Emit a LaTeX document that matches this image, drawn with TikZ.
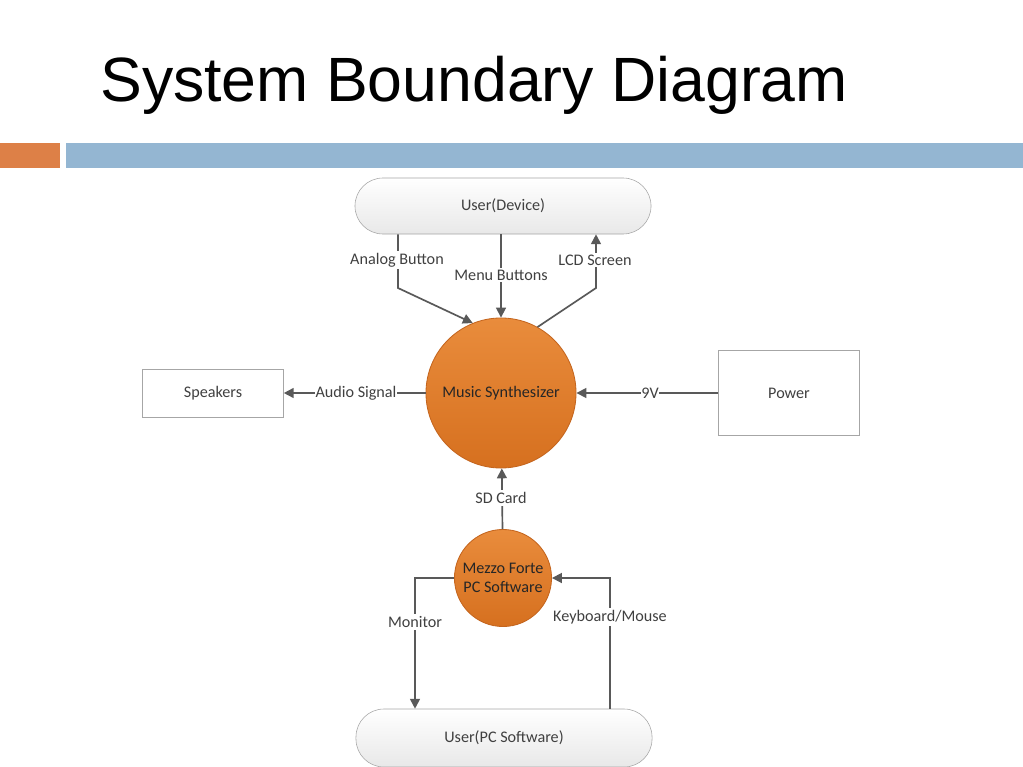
\documentclass[tikz,border=0pt]{standalone}
\usepackage{fontspec}
\setmainfont{Carlito}
\newfontfamily\titlefont{Liberation Sans}
\usetikzlibrary{arrows.meta, calc}
\definecolor{barorange}{HTML}{DD8047}
\definecolor{barblue}{HTML}{94B6D2}
\definecolor{procTop}{HTML}{E98C3C}
\definecolor{procBottom}{HTML}{D6701F}
\definecolor{procEdge}{HTML}{C4651E}

\begin{document}
\begin{tikzpicture}[x=0.025cm, y=-0.025cm, font=\fontsize{11.5}{13}\selectfont,
            user-block/.style={rectangle, draw=black!35, top color=white, bottom color=black!9, minimum width=7.4cm, minimum height=1.4cm, rounded corners=0.7cm, text=black!75},
            ext-block/.style={rectangle, draw=black!35, fill=white, minimum width=3.525cm, text=black!75},
            process/.style={circle, draw=procEdge, line width=0.6pt, top color=procTop, bottom color=procBottom, inner sep=0pt, align=center, text=black!85},
            arrow/.style={line width=1.2pt, draw=black!65, -{Triangle[length=7pt,width=7pt]}},
            flow/.style={fill=white, inner sep=1.5pt, text=black!75}
        ]

        \useasboundingbox (0,0) rectangle (1023,767);

        % Title and header bar
        \node[anchor=base west, inner sep=0pt, font=\titlefont\fontsize{44.5}{50}\selectfont] (title) at (100,102) {System Boundary Diagram};
        \fill[barorange] (0,143) rectangle (60,168);
        \fill[barblue] (66,143) rectangle (1023,168);

        % Users
        \node[user-block] (userdev) at (503,206) {User(Device)};
        \node[user-block, minimum height=1.45cm] (userpc) at (504,738) {User(PC Software)};

        % Processes
        \node[process, minimum size=3.75cm] (synth) at (501,393) {Music Synthesizer};
        \node[process, minimum size=2.425cm] (mezzo) at (503,578) {Mezzo Forte\\PC Software};

        % External blocks
        \node[ext-block, minimum height=1.2cm] (speakers) at (213,393) {Speakers};
        \node[ext-block, minimum height=2.125cm] (power) at (789,393) {Power};

        % Bends
        \coordinate (ab) at (398,288);
        \coordinate (lcd) at (596,288);
        \coordinate (mon) at (415,0);
        \coordinate (kb) at (610,0);

        % Arrows
        \draw[arrow] (userdev.south -| ab) -- (ab) -- (synth.112);
        \draw[arrow] (userdev.south -| synth.north) -- (synth.north);
        \draw[arrow] (synth.61) -- (lcd) -- (userdev.south -| lcd);
        \draw[arrow] (synth) -- (speakers);
        \draw[arrow] (power) -- (synth);
        \draw[arrow] (mezzo) -- (synth);
        \draw[arrow] (mezzo.west) -| (userpc.north -| mon);
        \draw[arrow] (userpc.north -| kb) |- (mezzo.east);

        % Labels
        \node[flow] (lblab) at (397,260) {Analog Button};
        \node[flow] (lblmenu) at (501,275) {Menu Buttons};
        \node[flow] (lbllcd) at (595,260) {LCD Screen};
        \node[flow, inner sep=0.5pt] (lblaudio) at (356,393) {Audio Signal};
        \node[flow, inner sep=0.5pt] (lbl9v) at (650,393) {9V};
        \node[flow] (lblsd) at (501,498) {SD Card};
        \node[flow] (lblmon) at (415,622) {Monitor};
        \node[flow] (lblkb) at (610,617) {Keyboard/Mouse};

    \end{tikzpicture}
\end{document}
